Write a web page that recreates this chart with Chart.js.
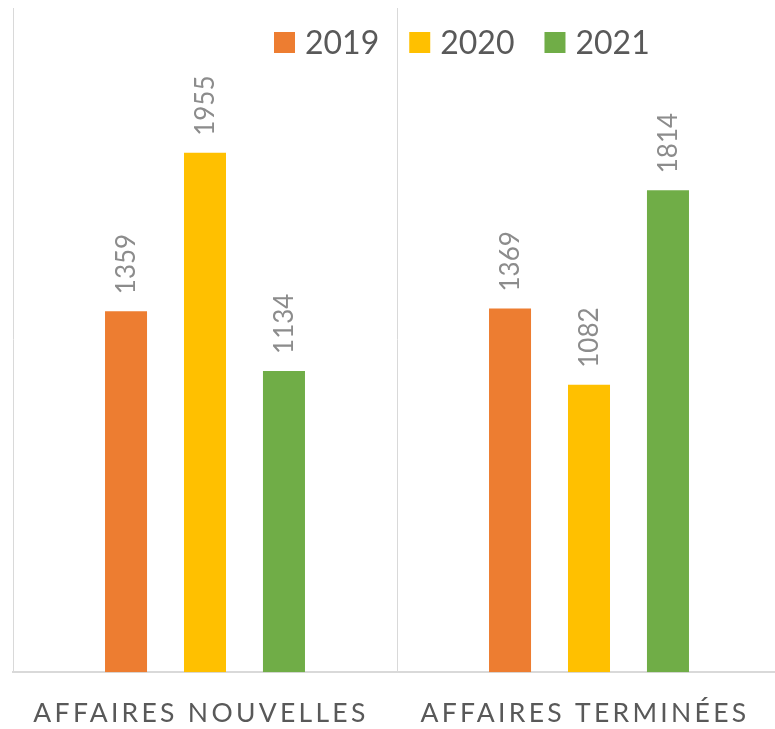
<!DOCTYPE html>
<html>
<head>
<meta charset="utf-8">
<script src="https://cdn.jsdelivr.net/npm/chart.js@4.4.0/dist/chart.umd.min.js"></script>
<style>
  html, body { margin: 0; padding: 0; background: #fff; overflow: hidden; }
  #wrap { width: 781px; height: 729px; }
</style>
</head>
<body>
<div id="wrap"><canvas id="affairesChart"></canvas></div>
<script>
const categories = ['AFFAIRES NOUVELLES', 'AFFAIRES TERMINÉES'];
const years = ['2019', '2020', '2021'];
const values2019 = [1359, 1369];
const values2020 = [1955, 1082];
const values2021 = [1134, 1814];
const colors = ['#ED7D31', '#FFC000', '#70AD47'];

// labels verticaux au-dessus des barres
const valueLabels = {
  id: 'valueLabels',
  afterDatasetsDraw(chart) {
    const ctx = chart.ctx;
    ctx.save();
    ctx.letterSpacing = '0px';
    ctx.font = '26px Lato';
    ctx.fillStyle = '#8c8c8c';
    ctx.textAlign = 'left';
    ctx.textBaseline = 'middle';
    chart.data.datasets.forEach((ds, i) => {
      chart.getDatasetMeta(i).data.forEach((bar, j) => {
        ctx.save();
        ctx.translate(bar.x + 1, bar.y - 17);
        ctx.rotate(-Math.PI / 2);
        ctx.fillText(String(ds.data[j]), 0, 0);
        ctx.restore();
      });
    });
    ctx.restore();
  }
};

// légende dans la zone du graphique, en haut à droite
const topLegend = {
  id: 'topLegend',
  afterDraw(chart) {
    const ctx = chart.ctx;
    ctx.save();
    ctx.letterSpacing = '0px';
    ctx.font = '32px Lato';
    ctx.textAlign = 'left';
    ctx.textBaseline = 'middle';
    let x = 274;
    const y = 42.5;
    chart.data.datasets.forEach((ds) => {
      ctx.fillStyle = ds.backgroundColor;
      ctx.fillRect(x, y - 10.5, 21, 21);
      ctx.fillStyle = '#595959';
      ctx.fillText(ds.label, x + 31, y + 1);
      x += 31 + ctx.measureText(ds.label).width + 30;
    });
    ctx.restore();
  }
};

const spacing = {
  id: 'spacing',
  beforeDraw(chart) {
    chart.ctx.letterSpacing = '3.3px';
  }
};

const data = {
  labels: categories,
  datasets: [
    { label: years[0], data: values2019, backgroundColor: colors[0] },
    { label: years[1], data: values2020, backgroundColor: colors[1] },
    { label: years[2], data: values2021, backgroundColor: colors[2] },
  ],
};

const config = {
  type: 'bar',
  data: data,
  options: {
    responsive: true,
    maintainAspectRatio: false,
    animation: false,
    categoryPercentage: 0.617,
    barPercentage: 0.532,
    layout: { padding: { top: 8, left: 13, right: 0, bottom: -25 } },
    plugins: {
      legend: { display: false },
      tooltip: { enabled: false },
    },
    scales: {
      x: {
        grid: { color: '#d9d9d9', lineWidth: 1, drawTicks: false },
        border: { color: '#d9d9d9', width: 2 },
        ticks: {
          color: '#595959',
          font: { family: 'Lato', size: 26.5 },
          padding: 25,
          labelOffset: -4,
          maxRotation: 0,
          autoSkip: false,
        },
      },
      y: {
        display: false,
        min: 0,
        max: 2500,
      },
    },
  },
  plugins: [spacing, valueLabels, topLegend],
};

new Chart(document.getElementById('affairesChart'), config);
</script>
</body>
</html>
